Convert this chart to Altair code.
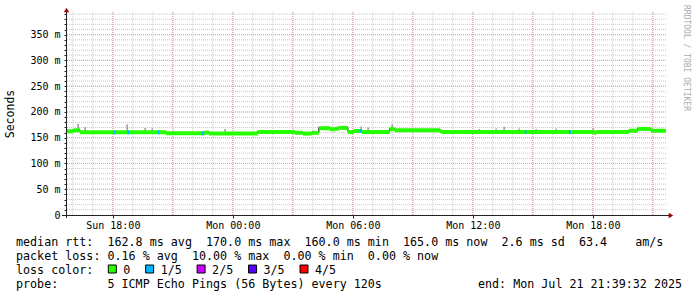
import altair as alt
import pandas as pd

FONT = "DejaVu Sans Mono"
NB = "\u00a0"

# ---------------- data ----------------
# median rtt (ms) as a step series: segment start times and values
seg_start = [
    "2025-07-20T15:39:32", "2025-07-20T16:03:00", "2025-07-20T16:21:00", "2025-07-20T20:39:00",
    "2025-07-20T22:36:00", "2025-07-20T22:48:00", "2025-07-21T01:15:00", "2025-07-21T03:06:00",
    "2025-07-21T03:30:00", "2025-07-21T03:57:00", "2025-07-21T04:12:00", "2025-07-21T04:18:00",
    "2025-07-21T04:51:00", "2025-07-21T05:09:00", "2025-07-21T05:18:00", "2025-07-21T05:45:00",
    "2025-07-21T06:03:00", "2025-07-21T06:27:00", "2025-07-21T07:51:00", "2025-07-21T08:06:00",
    "2025-07-21T10:21:00", "2025-07-21T10:27:00", "2025-07-21T18:03:00", "2025-07-21T18:12:00",
    "2025-07-21T19:48:00", "2025-07-21T20:15:00", "2025-07-21T20:54:00",
]
seg_value = [164, 166, 162, 160, 161.5, 159.5, 162.5, 161, 159.5, 161,
             160.5, 170, 168, 169, 170.5, 162.5, 164.5, 162.5, 168, 166,
             164, 162.5, 161.5, 162.5, 165, 168.5, 165]
end_time = "2025-07-21T21:39:32"
start_time = "2025-07-20T15:39:32"

# intervals with 1/5 packet loss
loss_start = ["2025-07-20T18:03:00", "2025-07-20T18:44:00", "2025-07-20T20:15:00", "2025-07-20T22:27:00",
              "2025-07-21T06:21:00", "2025-07-21T14:36:00", "2025-07-21T16:48:00"]
loss_end = ["2025-07-20T18:08:00", "2025-07-20T18:49:00", "2025-07-20T20:20:00", "2025-07-20T22:33:00",
            "2025-07-21T06:27:00", "2025-07-21T14:41:00", "2025-07-21T16:54:00"]
loss_value = [162, 162, 162, 160, 164.5, 162.5, 162.5]

# smoke (ping spread) spikes
smoke_time = ["2025-07-20T16:16:00", "2025-07-20T16:37:00", "2025-07-20T18:43:00", "2025-07-20T19:37:00",
              "2025-07-20T19:58:00", "2025-07-20T23:37:00", "2025-07-21T06:25:00", "2025-07-21T06:46:00",
              "2025-07-21T07:58:00", "2025-07-21T12:19:00", "2025-07-21T13:10:00", "2025-07-21T13:34:00",
              "2025-07-21T14:19:00", "2025-07-21T15:10:00", "2025-07-21T16:10:00", "2025-07-21T18:01:00"]
smoke_lo = [163, 160, 160, 160, 160, 158, 162, 160, 164, 160, 160, 160, 160, 160, 160, 160]
smoke_hi = [177, 171, 176, 169, 168, 167, 172, 170, 176, 167, 168, 171, 168, 167, 168, 168]

# axis ticks
y_ticks = list(range(0, 400, 10))
y_major = list(range(50, 400, 50))
x_minor = [t.strftime("%Y-%m-%dT%H:%M:%S") for t in pd.date_range("2025-07-20 16:00", "2025-07-21 21:00", freq="h")]
x_major = [t.strftime("%Y-%m-%dT%H:%M:%S") for t in pd.date_range("2025-07-20 18:00", "2025-07-21 21:00", freq="3h")]
x_label_ticks = [(20, 18), (21, 0), (21, 6), (21, 12), (21, 18)]

legend_lines = [
    "median rtt:  162.8 ms avg  170.0 ms max  160.0 ms min  165.0 ms now  2.6 ms sd  63.4    am/s",
    "packet loss: 0.16 % avg  10.00 % max  0.00 % min  0.00 % now",
    "loss color:",
    "probe:       5 ICMP Echo Pings (56 Bytes) every 120s",
]
end_label = "end: Mon Jul 21 21:39:32 2025"
loss_labels = ["0", "1/5", "2/5", "3/5", "4/5"]
loss_colors = ["#26ff00", "#00b8ff", "#cc00ff", "#5500ff", "#ff0000"]

# ---------------- styles ----------------
GRID = "#c8c8c8"
MGRID = "#e89a9a"
AXIS = "#222222"
ARROW = "#a00000"
W, H = 600, 203

xs = alt.Scale(domain=[alt.DateTime(year=2025, month=7, date=20, hours=15, minutes=39, seconds=32),
                       alt.DateTime(year=2025, month=7, date=21, hours=21, minutes=39, seconds=32)],
               nice=False)
ys = alt.Scale(domain=[0, 394], nice=False, zero=False)

x_axis = alt.Axis(
    values=[alt.DateTime(year=2025, month=7, date=d, hours=h) for d, h in x_label_ticks],
    format="%a %H:%M", labelFont=FONT, labelFontSize=10, labelColor="black",
    tickColor=AXIS, tickSize=3, labelPadding=2, domain=False, grid=False, title=None,
    labelFlush=False, labelOverlap=False,
)
y_axis = alt.Axis(
    values=y_ticks,
    labelExpr="datum.value % 50 == 0 ? (datum.value == 0 ? '0' : datum.value + ' m') : ''",
    labelFont=FONT, labelFontSize=10, labelColor="black", tickColor=AXIS, tickSize=2,
    labelPadding=4, domain=False, grid=False, title=None, labelOverlap=False,
)


def X(field):
    return alt.X(field, scale=xs, axis=x_axis)


def Y(field):
    return alt.Y(field, scale=ys, axis=y_axis)


one = pd.DataFrame({"k": [0]})

# ---------------- tables ----------------
band = pd.DataFrame({"start": seg_start, "end": seg_start[1:] + [end_time], "v": seg_value})
steps = pd.DataFrame({"t": seg_start + [end_time], "v": seg_value + [seg_value[-1]]})
loss = pd.DataFrame({"start": loss_start, "end": loss_end, "v": loss_value})
smoke = pd.DataFrame({"t": smoke_time, "lo": smoke_lo, "hi": smoke_hi})

layers = []

# grid
layers.append(alt.Chart(pd.DataFrame({"t": x_minor})).mark_rule(color=GRID, strokeDash=[1, 1], strokeWidth=1)
              .encode(x=X("t:T")))
layers.append(alt.Chart(pd.DataFrame({"v": y_ticks[1:]})).mark_rule(color=GRID, strokeDash=[1, 1], strokeWidth=1)
              .encode(y=Y("v:Q")))
layers.append(alt.Chart(pd.DataFrame({"t": x_major})).mark_rule(color=MGRID, strokeDash=[1, 1], strokeWidth=1)
              .encode(x=X("t:T")))
layers.append(alt.Chart(pd.DataFrame({"v": y_major})).mark_rule(color=MGRID, strokeDash=[1, 1], strokeWidth=1)
              .encode(y=Y("v:Q")))

# smoke
layers.append(alt.Chart(smoke).mark_rule(color="#999999", strokeWidth=1.5)
              .encode(x=X("t:T"), y=Y("lo:Q"), y2="hi:Q"))

# black median step line
layers.append(alt.Chart(steps).mark_line(color="black", strokeWidth=1, interpolate="step-after")
              .encode(x=X("t:T"), y=Y("v:Q")))

# loss-coloured median band
layers.append(alt.Chart(band).transform_calculate(hi="datum.v + 2.4", lo="datum.v - 5.4")
              .mark_rect(color=loss_colors[0])
              .encode(x=X("start:T"), x2="end:T", y=Y("hi:Q"), y2="lo:Q"))
layers.append(alt.Chart(loss).transform_calculate(hi="datum.v + 2.4", lo="datum.v - 5.4")
              .mark_rect(color=loss_colors[1])
              .encode(x=X("start:T"), x2="end:T", y=Y("hi:Q"), y2="lo:Q"))

# axis lines and arrows
layers.append(alt.Chart(one).mark_rule(color=AXIS, strokeWidth=1)
              .encode(x=alt.value(0.5), y=alt.value(-3), y2=alt.value(206)))
layers.append(alt.Chart(one).mark_rule(color=AXIS, strokeWidth=1)
              .encode(x=alt.value(-4), x2=alt.value(604), y=alt.value(203.5)))
layers.append(alt.Chart(one).mark_point(shape="triangle-up", filled=True, color=ARROW, size=28, opacity=1)
              .encode(x=alt.value(0.5), y=alt.value(-2)))
layers.append(alt.Chart(one).mark_point(shape="triangle-right", filled=True, color=ARROW, size=28, opacity=1)
              .encode(x=alt.value(605), y=alt.value(203.5)))


def text(txt, x, y, size=11.7, color="black", align="left", baseline="alphabetic", angle=0, font=FONT):
    return (alt.Chart(one)
            .mark_text(text=txt.replace(" ", NB), font=font, fontSize=size, color=color,
                       align=align, baseline=baseline, angle=angle)
            .encode(x=alt.value(x), y=alt.value(y)))


# y title and watermark
layers.append(text("Seconds", -55, 102, size=11.5, align="center", baseline="middle", angle=270))
layers.append(text("RRDTOOL / TOBI OETIKER", 620, -7, size=8, color="#aaaaaa", align="left",
                   baseline="middle", angle=90))

# legend text
ly = [234, 248, 262, 276]
for line, yy in zip(legend_lines, ly):
    layers.append(text(line, -50, yy))
layers.append(text(end_label, 412, ly[3]))

# loss colour boxes
bx = 42.3
for lab, col in zip(loss_labels, loss_colors):
    layers.append(alt.Chart(one).mark_rect(color=col, stroke="black", strokeWidth=1)
                  .encode(x=alt.value(bx), x2=alt.value(bx + 8), y=alt.value(253), y2=alt.value(261)))
    layers.append(text(lab, bx + 15, ly[2]))
    bx = bx + 15 + len(lab) * 7.05 + 15.3

chart = (alt.layer(*layers)
         .properties(width=W, height=H, autosize=alt.AutoSizeParams(type="none"),
                     padding={"left": 66, "top": 12, "right": 31, "bottom": 82},
                     background="white")
         .configure_view(stroke=None))

chart.save("out.html", embed_options={"renderer": "svg", "actions": False})
